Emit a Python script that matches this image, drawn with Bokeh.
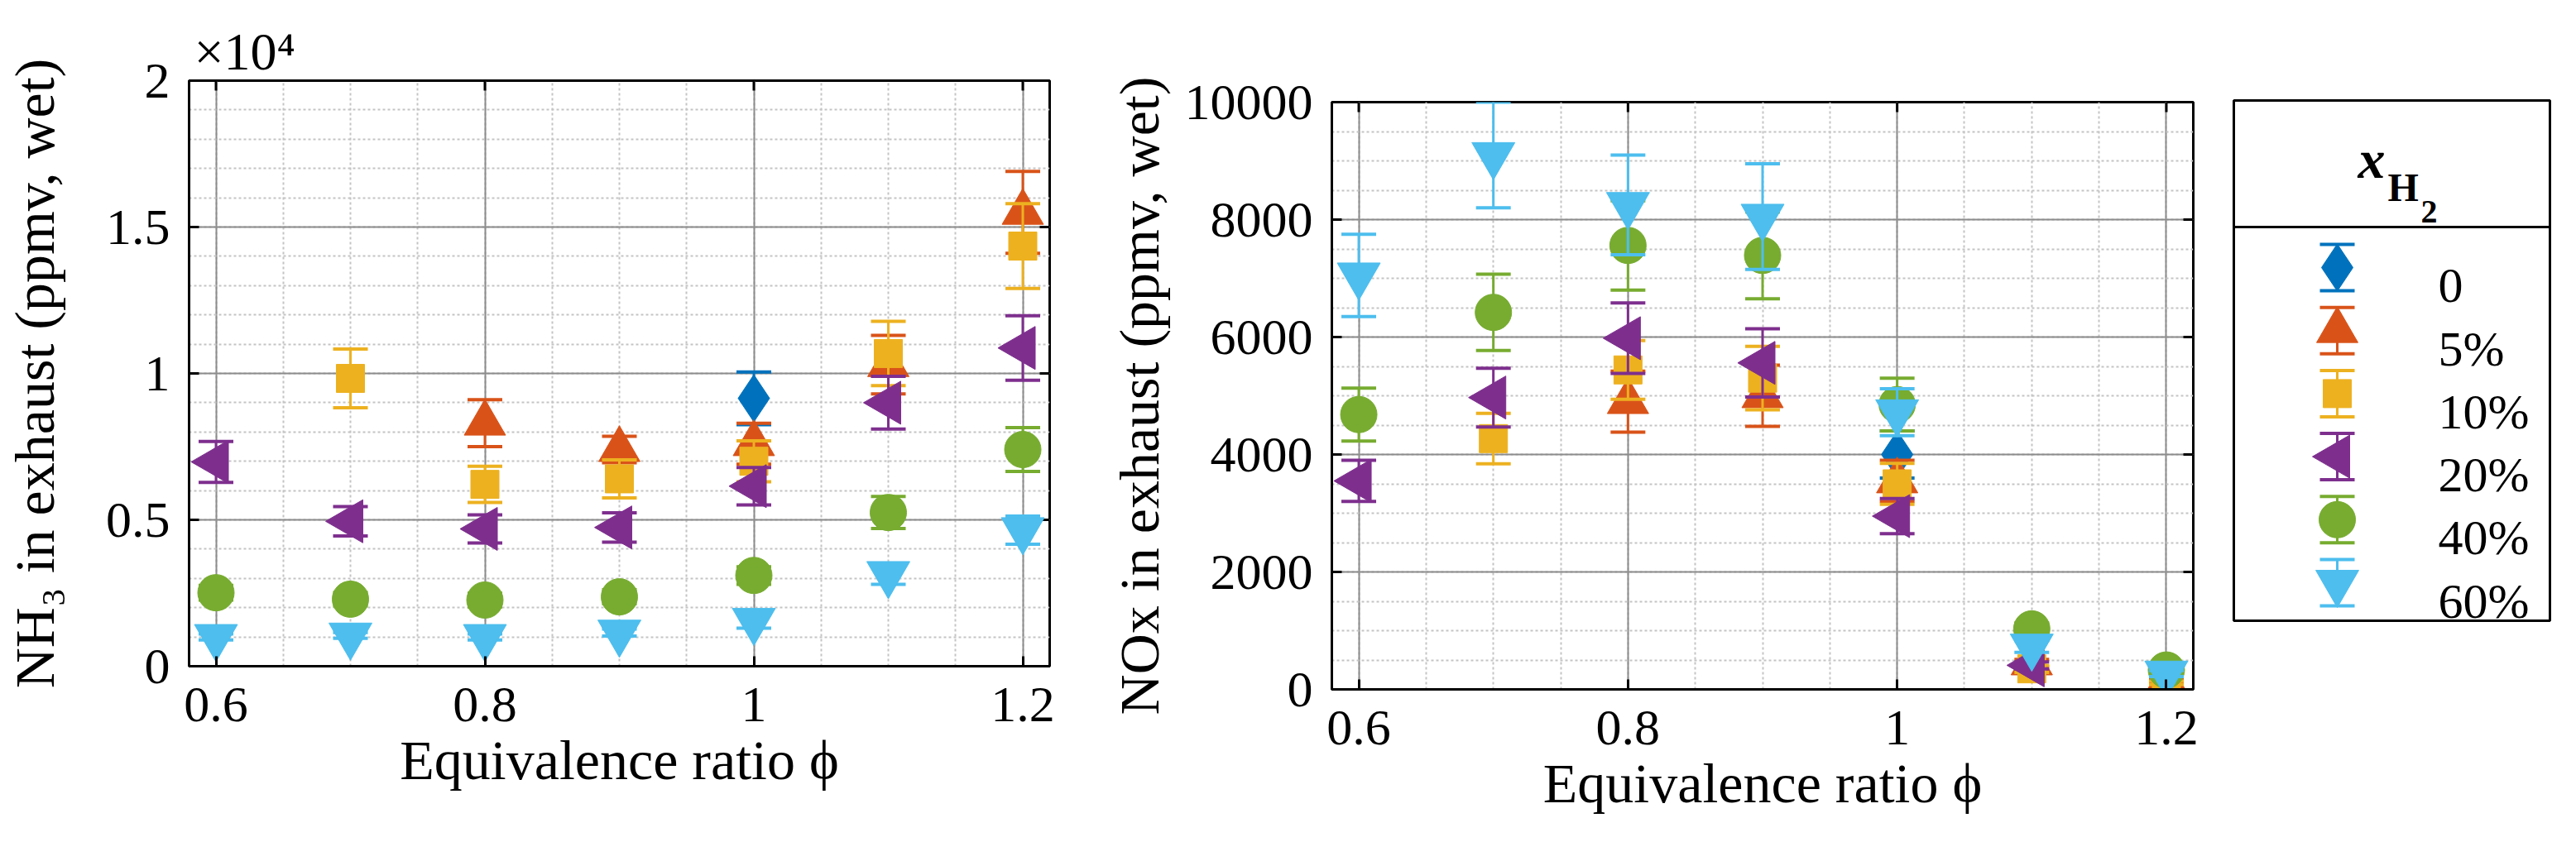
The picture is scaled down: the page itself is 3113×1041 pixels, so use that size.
import math
from bokeh.plotting import figure
from bokeh.layouts import row, column
from bokeh.models import Range1d, FixedTicker, CustomJSTickFormatter, Spacer
from bokeh.embed import file_html
from bokeh.resources import INLINE
from bokeh.core.properties import value

# ---------------- data ----------------
phi = [0.6, 0.7, 0.8, 0.9, 1.0, 1.1, 1.2]
series_labels = ["0", "5%", "10%", "20%", "40%", "60%"]
colors = ["#0072BD", "#D95319", "#EDB120", "#7E2F8E", "#77AC30", "#4DBEEE"]
N = None

# NH3 in exhaust (ppmv, wet)
nh3_0 = [N, N, N, N, 9150, N, N]
nh3_5 = [N, N, 8300, 7400, 7600, 10300, 15500]
nh3_10 = [N, 9830, 6210, 6400, 7000, 10680, 14350]
nh3_20 = [6980, 4950, 4690, 4740, 6150, 9000, 10870]
nh3_40 = [2510, 2290, 2260, 2370, 3100, 5250, 7400]
nh3_60 = [1000, 1050, 1000, 1150, 1550, 3150, 4650]

nh3_err_0 = [N, N, N, N, 900, N, N]
nh3_err_5 = [N, N, 800, 450, 700, 1000, 1400]
nh3_err_10 = [N, 1000, 620, 650, 700, 1100, 1450]
nh3_err_20 = [700, 500, 480, 500, 640, 900, 1100]
nh3_err_40 = [250, 230, 230, 240, 300, 550, 750]
nh3_err_60 = [100, 100, 100, 120, 250, 350, 480]

# NOx in exhaust (ppmv, wet)
nox_0 = [N, N, N, N, 4000, N, N]
nox_5 = [N, N, 4900, 5000, 3550, 450, 150]
nox_10 = [N, 4270, 5440, 5300, 3500, 350, 110]
nox_20 = [3550, 4970, 5980, 5560, 2950, 410, N]
nox_40 = [4680, 6420, 7560, 7390, 4850, 1030, 330]
nox_60 = [7050, 9100, 8250, 8050, 4720, 730, 270]

nox_err_0 = [N, N, N, N, 400, N, N]
nox_err_5 = [N, N, 520, 520, 350, 60, 30]
nox_err_10 = [N, 430, 500, 540, 350, 60, 30]
nox_err_20 = [350, 500, 600, 580, 300, 60, N]
nox_err_40 = [450, 650, 760, 740, 450, 100, 50]
nox_err_60 = [700, 900, 850, 900, 400, 100, 50]

x_ticks = [0.6, 0.8, 1.0, 1.2]
nh3_ticks = [0, 5000, 10000, 15000, 20000]
nox_ticks = [0, 2000, 4000, 6000, 8000, 10000]
X_RANGE = (0.58, 1.22)

# ---------------- styles ----------------
FONT = "Liberation Serif"
marker_styles = [
    ("diamond", 57, 0.0),
    ("triangle", 50, 0.0),
    ("square", 34, 0.0),
    ("triangle", 52, math.pi / 2),
    ("circle", 44, 0.0),
    ("inverted_triangle", 52, 0.0),
]
CAP = 42
TICK = 12


def minor_list(lo, hi, step):
    n = int(round((hi - lo) / step))
    return [lo + k * step for k in range(n + 1)]


def style_axis(ax, ticker, fmt):
    ax.ticker = ticker
    ax.formatter = fmt
    ax.axis_line_color = "black"
    ax.axis_line_width = 3
    ax.major_tick_in = TICK
    ax.major_tick_out = 0
    ax.major_tick_line_width = 3
    ax.major_tick_line_color = "black"
    ax.minor_tick_line_color = None
    ax.major_label_text_font = FONT
    ax.major_label_text_color = "black"
    ax.major_label_text_font_size = "62px"
    ax.axis_label_text_font = FONT
    ax.axis_label_text_font_size = "68px"
    ax.axis_label_text_font_style = "normal"
    ax.axis_label_text_color = "black"


def make_panel(series, errs, y_ticks, y_minor_step, y_fmt, ylabel, fw, fh,
               bl, br, bt, bb, ylab_standoff, title=None):
    p = figure(frame_width=fw, frame_height=fh, title=title,
               x_range=Range1d(*X_RANGE), y_range=Range1d(y_ticks[0], y_ticks[-1]),
               output_backend="svg", toolbar_location=None,
               min_border_left=bl, min_border_right=br,
               min_border_top=bt, min_border_bottom=bb,
               background_fill_color="white", border_fill_color="white")
    xt = FixedTicker(ticks=x_ticks, minor_ticks=minor_list(0.55, 1.25, 0.05))
    yt = FixedTicker(ticks=y_ticks, minor_ticks=minor_list(y_ticks[0], y_ticks[-1], y_minor_step))
    xfmt = CustomJSTickFormatter(code="return String(Math.round(tick*100)/100);")
    style_axis(p.xaxis[0], xt, xfmt)
    style_axis(p.yaxis[0], yt, y_fmt)
    p.xaxis[0].axis_label = "Equivalence ratio \u03d5"
    p.xaxis[0].major_label_standoff = 22
    p.xaxis[0].axis_label_standoff = 6
    p.yaxis[0].axis_label = ylabel
    p.yaxis[0].major_label_standoff = 19
    p.yaxis[0].axis_label_standoff = ylab_standoff

    p.grid.grid_line_color = "#8c8c8c"
    p.grid.grid_line_width = 2
    p.grid.minor_grid_line_color = "#c4c4c4"
    p.grid.minor_grid_line_width = 2
    p.grid.minor_grid_line_dash = "3 3"
    p.outline_line_color = "black"
    p.outline_line_width = 3

    # inward ticks on the top and right edges of the box
    y0, y1 = y_ticks[0], y_ticks[-1]
    dyt = TICK * (y1 - y0) / fh
    dxt = TICK * (X_RANGE[1] - X_RANGE[0]) / fw
    p.segment(x0=x_ticks, y0=[y1] * len(x_ticks), x1=x_ticks, y1=[y1 - dyt] * len(x_ticks),
              line_color="black", line_width=3)
    p.segment(x0=[X_RANGE[1]] * len(y_ticks), y0=y_ticks,
              x1=[X_RANGE[1] - dxt] * len(y_ticks), y1=y_ticks,
              line_color="black", line_width=3)

    for i, (vals, ers) in enumerate(zip(series, errs)):
        c = colors[i]
        mk, sz, ang = marker_styles[i]
        xs = [x for x, v in zip(phi, vals) if v is not None]
        ys = [v for v in vals if v is not None]
        es = [e for v, e in zip(vals, ers) if v is not None]
        lo = [y - e for y, e in zip(ys, es)]
        hi = [y + e for y, e in zip(ys, es)]
        p.segment(x0=xs, y0=lo, x1=xs, y1=hi, line_color=c, line_width=3)
        p.scatter(x=xs + xs, y=lo + hi, marker="dash", size=CAP, line_color=c, line_width=4)
        p.scatter(x=xs, y=ys, marker=mk, size=sz, angle=ang,
                  fill_color=c, line_color=c, line_width=1)
    return p


nh3_fmt = CustomJSTickFormatter(code="return String(tick/10000);")
nox_fmt = CustomJSTickFormatter(code="return String(tick);")

p1 = make_panel([nh3_0, nh3_5, nh3_10, nh3_20, nh3_40, nh3_60],
                [nh3_err_0, nh3_err_5, nh3_err_10, nh3_err_20, nh3_err_40, nh3_err_60],
                nh3_ticks, 1000, nh3_fmt, "NH\u2083 in exhaust (ppmv, wet)",
                1040, 708, 224, 36, 97, 182, 45, title="\u00d710\u2074")
p1.title.text_font = FONT
p1.title.text_font_size = "64px"
p1.title.text_font_style = "normal"
p1.title.text_color = "black"
p1.title.align = "left"
p1.title.offset = 6
p1.title.standoff = 0

p2 = make_panel([nox_0, nox_5, nox_10, nox_20, nox_40, nox_60],
                [nox_err_0, nox_err_5, nox_err_10, nox_err_20, nox_err_40, nox_err_60],
                nox_ticks, 500, nox_fmt, "NOx in exhaust (ppmv, wet)",
                1041, 710, 305, 40, 97, 182, 14)

# ---------------- legend (drawn in pixel coordinates of its own panel) ----------------
LW, LT, LFH = 411, 97, 708
lg = figure(frame_width=LW, frame_height=LFH, title=None,
            x_range=Range1d(0, LW), y_range=Range1d(LT + LFH, LT),
            output_backend="svg", toolbar_location=None,
            x_axis_location=None, y_axis_location=None,
            min_border_left=0, min_border_right=0, min_border_top=LT, min_border_bottom=182)
lg.grid.grid_line_color = None
lg.outline_line_color = None
box_l, box_r, box_t, box_b, sep_y = 9, 391, 121, 750, 274
lg.quad(left=[box_l], right=[box_r], top=[box_t], bottom=[box_b],
        fill_color=None, line_color="black", line_width=3)
lg.segment(x0=[box_l], y0=[sep_y], x1=[box_r], y1=[sep_y], line_color="black", line_width=3)
lg.text(x=[159], y=[192], text=["x"], text_font=value(FONT), text_font_size="66px",
        text_font_style="bold italic", text_baseline="alphabetic", text_color="black")
lg.text(x=[195], y=[226], text=["H"], text_font=value(FONT), text_font_size="48px",
        text_font_style="bold", text_baseline="alphabetic", text_color="black")
lg.text(x=[235], y=[255], text=["2"], text_font=value(FONT), text_font_size="40px",
        text_font_style="bold", text_baseline="alphabetic", text_color="black")

mx, tx, ly0, ldy, half = 134, 256, 323, 76.2, 28
for i, lab in enumerate(series_labels):
    yy = ly0 + i * ldy
    c = colors[i]
    mk, sz, ang = marker_styles[i]
    lg.segment(x0=[mx], y0=[yy - half], x1=[mx], y1=[yy + half], line_color=c, line_width=3)
    lg.scatter(x=[mx, mx], y=[yy - half, yy + half], marker="dash", size=CAP,
               line_color=c, line_width=4)
    lg.scatter(x=[mx], y=[yy], marker=mk, size=sz, angle=ang,
               fill_color=c, line_color=c, line_width=1)
    lg.text(x=[tx], y=[yy + 22], text=[lab], text_font=value(FONT), text_font_size="60px",
            text_baseline="alphabetic", text_color="black")

layout = row(column(p1), column(Spacer(width=1386, height=26), p2), column(lg))
open("out.html", "w").write(file_html(layout, INLINE))
